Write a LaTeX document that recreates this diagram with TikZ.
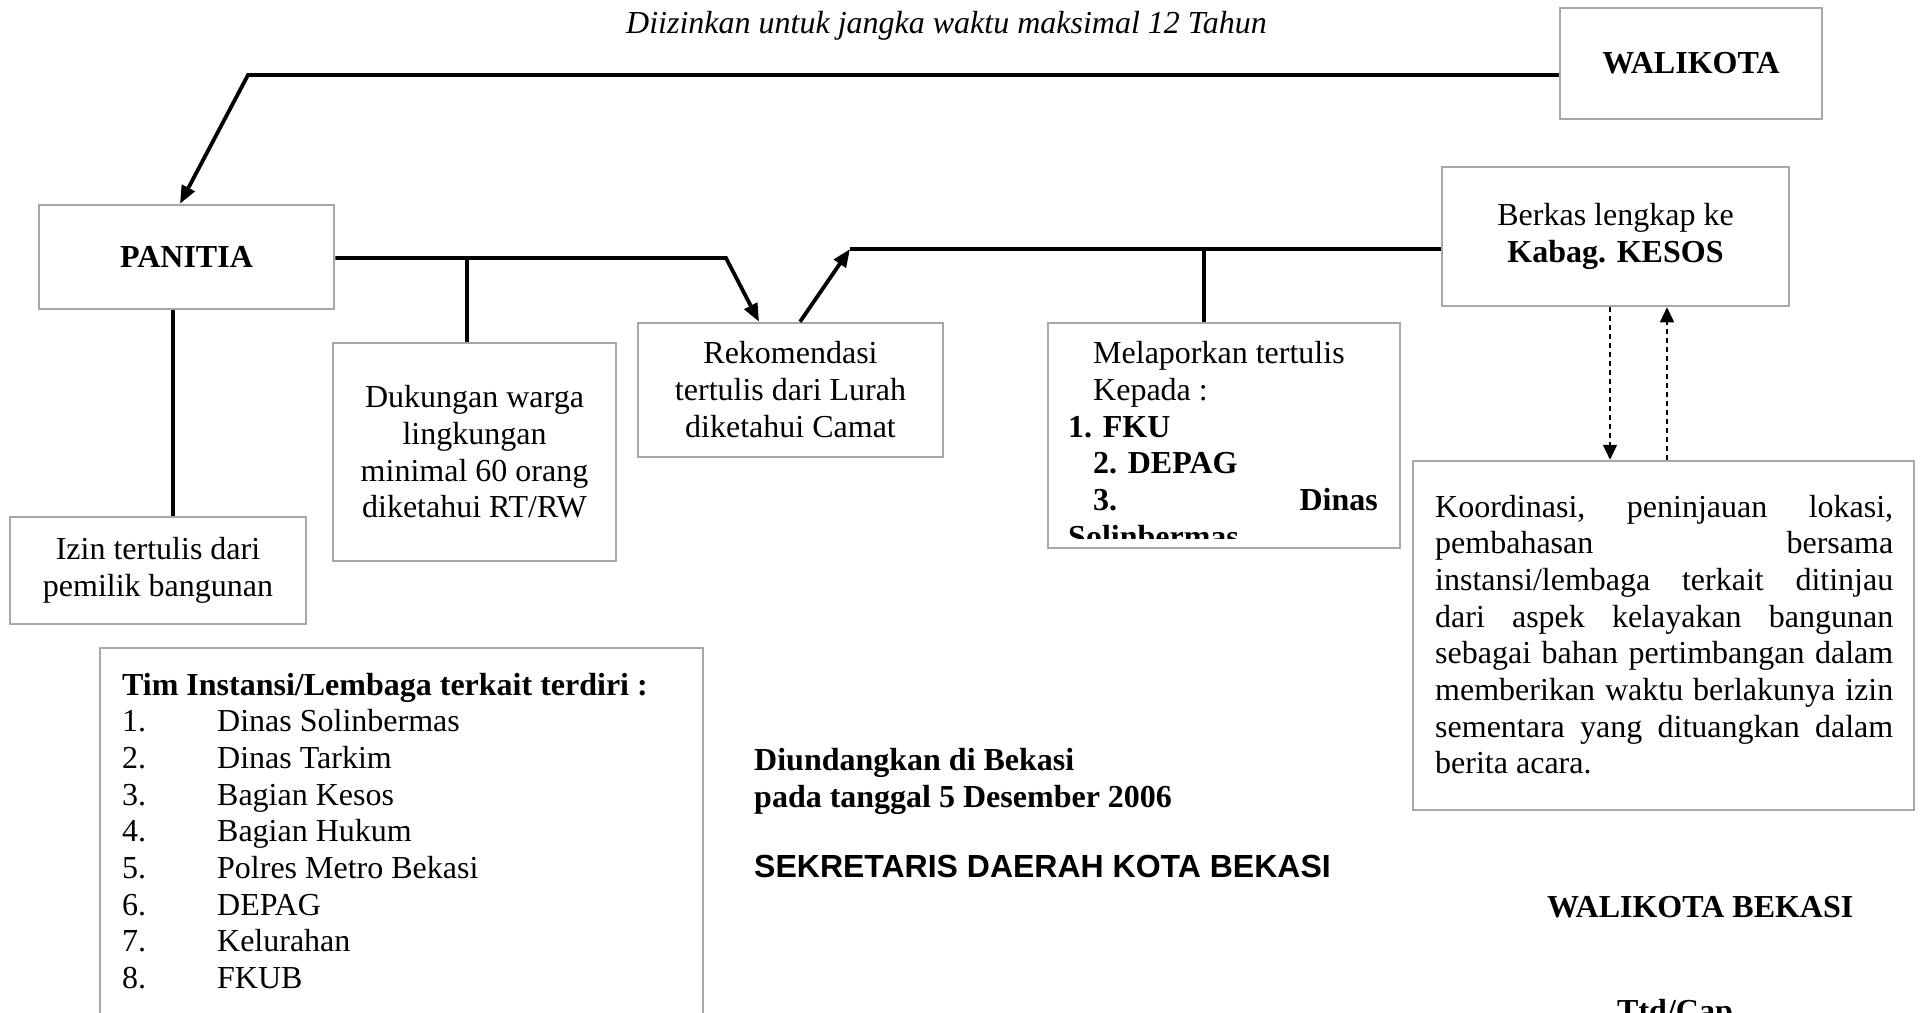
\documentclass[tikz,border=0pt]{standalone}
\usepackage{fontspec}
\setmainfont{Liberation Serif}
\setsansfont{Liberation Sans}
\usetikzlibrary{arrows.meta,calc}
\definecolor{boxgray}{RGB}{168,168,168}
\newcommand\myfs{\fontsize{32}{36.7}\selectfont}
\tikzset{
  box/.style={draw=boxgray, line width=2.5pt, inner sep=0pt, align=center, font=\myfs},
  conn/.style={line width=3.8pt, black},
  tipsolid/.style={-{Triangle[length=18pt,width=14pt]}},
  dconn/.style={line width=1.4pt, black, dash pattern=on 5pt off 4pt, -{Triangle[length=15pt,width=14pt]}},
  txt/.style={inner sep=0pt, font=\myfs}
}
\begin{document}
\begin{tikzpicture}[x=1pt,y=-1pt]
\useasboundingbox (0,0) rectangle (1921,1012);
\clip (0,0) rectangle (1921,1012);
\fill[white] (0,0) rectangle (1921,1012);

% boxes
\node[box, minimum width=262pt, minimum height=111pt] (walikota) at (1691,63.5) {\textbf{WALIKOTA}};
\node[box, minimum width=295pt, minimum height=104pt] (panitia) at (186.5,257) {\textbf{PANITIA}};
\node[box, minimum width=296pt, minimum height=107pt] (izin) at (158,570.5) {Izin tertulis dari\\pemilik bangunan};
\node[box, minimum width=283pt, minimum height=218pt] (dukungan) at (474.5,452) {Dukungan warga\\lingkungan\\minimal 60 orang\\diketahui RT/RW};
\node[box, minimum width=305pt, minimum height=134pt] (rekom) at (790.5,390) {};
\node[box, minimum width=352pt, minimum height=225pt] (melapor) at (1224,435.5) {};
\node[box, minimum width=347pt, minimum height=139pt] (berkas) at (1615.5,236.5) {Berkas lengkap ke\\\textbf{Kabag. KESOS}};
\node[box, minimum width=501pt, minimum height=349pt] (koord) at (1663.5,635.5) {};
\node[box, minimum width=603pt, minimum height=382pt] (tim) at (401.5,839) {};

% Rekomendasi text
\node[txt, anchor=base] (r1) at (790.5,363) {Rekomendasi};
\node[txt, anchor=base] (r2) at (790.5,400) {tertulis dari Lurah};
\node[txt, anchor=base] (r3) at (790.5,437) {diketahui Camat};

% Melaporkan text (clipped)
\begin{scope}
\clip (1049,324) rectangle (1399,538);
\node[txt, anchor=base west] (m1) at (1093,363) {Melaporkan tertulis};
\node[txt, anchor=base west] (m2) at (1093,400) {Kepada :};
\node[txt, anchor=base west] (m3) at (1068,437) {\textbf{1. FKU}};
\node[txt, anchor=base west] (m4) at (1093,473) {\textbf{2. DEPAG}};
\node[txt, anchor=base west] (m5) at (1093,510) {\textbf{3.}};
\node[txt, anchor=base east] (m6) at (1378,510) {\textbf{Dinas}};
\node[txt, anchor=base west] (m7) at (1068,547) {\textbf{Solinbermas}};
\end{scope}

% Koordinasi text
\node[txt, anchor=base west] (koordtxt) at (1435,517) {\parbox[t]{458pt}{\myfs
\makebox[\linewidth][s]{Koordinasi, \hfil peninjauan \hfil lokasi,}\\
\makebox[\linewidth][s]{pembahasan \hfil bersama}\\
\makebox[\linewidth][s]{instansi/lembaga \hfil terkait \hfil ditinjau}\\
\makebox[\linewidth][s]{dari \hfil aspek \hfil kelayakan \hfil bangunan}\\
\makebox[\linewidth][s]{sebagai bahan pertimbangan dalam}\\
\makebox[\linewidth][s]{memberikan waktu berlakunya izin}\\
\makebox[\linewidth][s]{sementara \hfil yang \hfil dituangkan \hfil dalam}\\
berita acara.}};

% Tim list
\node[txt, anchor=base west] (timtxt) at (122,695) {\parbox[t]{570pt}{\myfs
\textbf{Tim Instansi/Lembaga terkait terdiri :}\\
\makebox[95pt][l]{1.}Dinas Solinbermas\\
\makebox[95pt][l]{2.}Dinas Tarkim\\
\makebox[95pt][l]{3.}Bagian Kesos\\
\makebox[95pt][l]{4.}Bagian Hukum\\
\makebox[95pt][l]{5.}Polres Metro Bekasi\\
\makebox[95pt][l]{6.}DEPAG\\
\makebox[95pt][l]{7.}Kelurahan\\
\makebox[95pt][l]{8.}FKUB}};

% free texts
\node[txt, anchor=base] (title) at (946.5,33) {\textit{Diizinkan untuk jangka waktu maksimal 12 Tahun}};
\node[txt, anchor=base west] (diund) at (754,770) {\textbf{Diundangkan di Bekasi}};
\node[txt, anchor=base west] (tgl) at (754,807) {\textbf{pada tanggal 5 Desember 2006}};
\node[txt, anchor=base west] (sekda) at (754,877) {\sffamily\bfseries SEKRETARIS DAERAH KOTA BEKASI};
\node[txt, anchor=base west] (walb) at (1547,917) {\textbf{WALIKOTA BEKASI}};
\node[txt, anchor=base west] (ttd) at (1617,1021) {\textbf{Ttd/Cap}};

% connectors
\coordinate (w1) at (248,75);
\draw[conn, tipsolid] (walikota.west |- w1) -- (w1) -- ([xshift=-6.5pt]panitia.north);

\coordinate (p1) at (726,258);
\draw[conn, tipsolid] (panitia.east |- p1) -- (p1) -- ([xshift=-31.5pt]rekom.north);

\coordinate (j1) at (467,258);
\draw[conn] (j1) -- (j1 |- dukungan.north);

\coordinate (v1) at (173,300);
\draw[conn] (v1 |- panitia.south) -- (v1 |- izin.north);

\coordinate (u1) at (850,249);
\draw[conn, tipsolid] ([xshift=9.5pt]rekom.north) -- (u1);
\draw[conn] (u1) -- (u1 -| berkas.west);

\coordinate (j2) at (1204,249);
\draw[conn] (j2) -- (j2 |- melapor.north);

\coordinate (d1) at (1610,400);
\coordinate (d2) at (1667,400);
\draw[dconn] (d1 |- berkas.south) -- (d1 |- koord.north);
\draw[dconn] (d2 |- koord.north) -- (d2 |- berkas.south);
\end{tikzpicture}
\end{document}
